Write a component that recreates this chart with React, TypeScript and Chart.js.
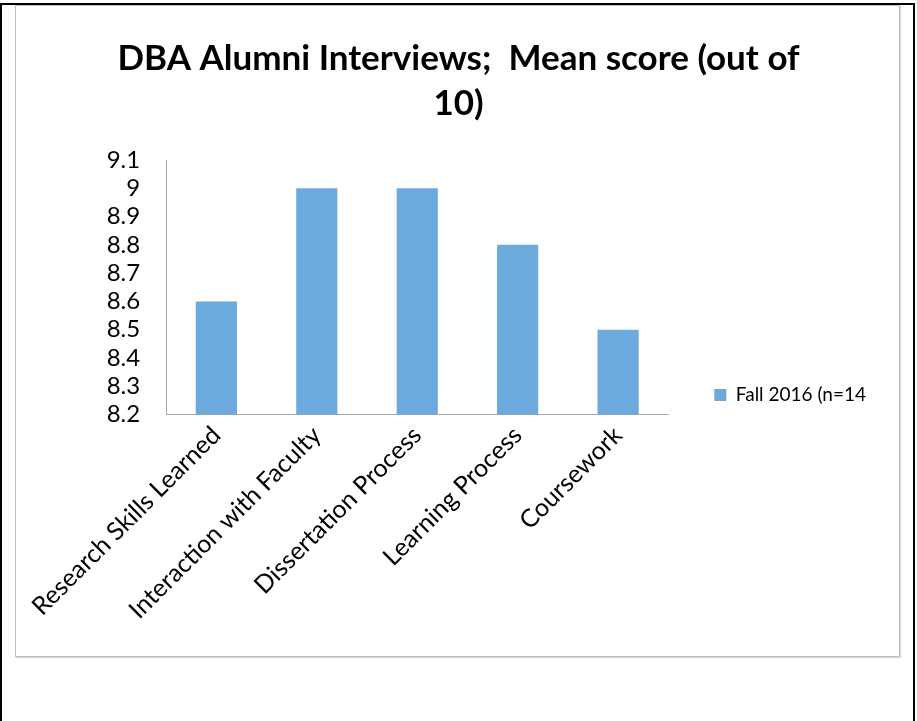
import React, { useEffect, useRef } from "react";
import { Chart, registerables } from "chart.js";

Chart.register(...registerables);

const categories = [
  "Research Skills Learned",
  "Interaction with Faculty",
  "Dissertation Process",
  "Learning Process",
  "Coursework",
];
const seriesLabel = "Fall 2016 (n=14";
const seriesValues = [8.6, 9.0, 9.0, 8.8, 8.5];
const titleLines = ["DBA Alumni Interviews;  Mean score (out of", "10)"];
const yMin = 8.2;
const yMax = 9.1;
const yStep = 0.1;

const FONT = "Lato, 'Open Sans', sans-serif";

export default function App() {
  const ref = useRef<HTMLCanvasElement | null>(null);

  useEffect(() => {
    if (!ref.current) return;
    const chart = new Chart(ref.current, {
      type: "bar",
      data: {
        labels: categories,
        datasets: [
          {
            label: seriesLabel,
            data: seriesValues,
            backgroundColor: "#6ca9dc",
            borderWidth: 0,
            barPercentage: 0.82,
            categoryPercentage: 0.5,
          },
        ],
      },
      options: {
        responsive: false,
        animation: false,
        devicePixelRatio: 1,
        layout: { padding: { left: 25, right: 22, top: 0, bottom: 25 } },
        plugins: {
          title: {
            display: true,
            text: titleLines,
            color: "#000",
            font: { family: FONT, size: 35, weight: "bold", lineHeight: 1.286 },
            padding: { top: 30, bottom: 34 },
          },
          legend: {
            display: true,
            position: "right",
            align: "end",
            fullSize: false,
            maxWidth: 400,
            labels: {
              color: "#000",
              font: { family: FONT, size: 19, lineHeight: 1.85 },
              boxWidth: 12,
              boxHeight: 12,
              padding: 10,
            },
          },
          tooltip: { enabled: false },
        },
        scales: {
          x: {
            grid: { display: true, drawOnChartArea: false, drawTicks: false },
            border: { display: true, color: "#a6a6a6", width: 1 },
            ticks: {
              color: "#000",
              font: { family: FONT, size: 25 },
              minRotation: 45,
              maxRotation: 45,
              padding: 6,
            },
          },
          y: {
            min: yMin,
            max: yMax,
            grid: { display: true, drawOnChartArea: false, drawTicks: false },
            border: { display: true, color: "#a6a6a6", width: 1 },
            afterFit: (s: any) => {
              s.width = 121;
            },
            ticks: {
              stepSize: yStep,
              autoSkip: false,
              color: "#000",
              font: { family: FONT, size: 24, lineHeight: 1 },
              padding: 26,
              callback: (v: any) => String(parseFloat(Number(v).toFixed(1))),
            },
          },
          spacer: {
            type: "linear",
            position: "right",
            display: true,
            grid: { display: false },
            border: { display: false },
            ticks: { display: false },
            afterFit: (s: any) => {
              s.width = 36;
            },
          },
        },
      },
    } as any);
    return () => chart.destroy();
  }, []);

  return (
    <div style={{ position: "fixed", left: 0, top: 0, width: 917, height: 721, background: "#fff" }}>
      <div
        style={{
          position: "absolute",
          left: 0,
          top: 3,
          width: 911,
          height: 730,
          borderLeft: "2px solid #000",
          borderTop: "2px solid #000",
          borderRight: "2px solid #000",
        }}
      />
      <div
        style={{
          position: "absolute",
          left: 15,
          top: 5,
          width: 883,
          height: 650,
          border: "1px solid #bfbfbf",
          boxShadow: "1px 1px 1px #d9d9d9",
          background: "#fff",
        }}
      >
        <canvas ref={ref} width={882} height={650} style={{ display: "block" }} />
      </div>
    </div>
  );
}
